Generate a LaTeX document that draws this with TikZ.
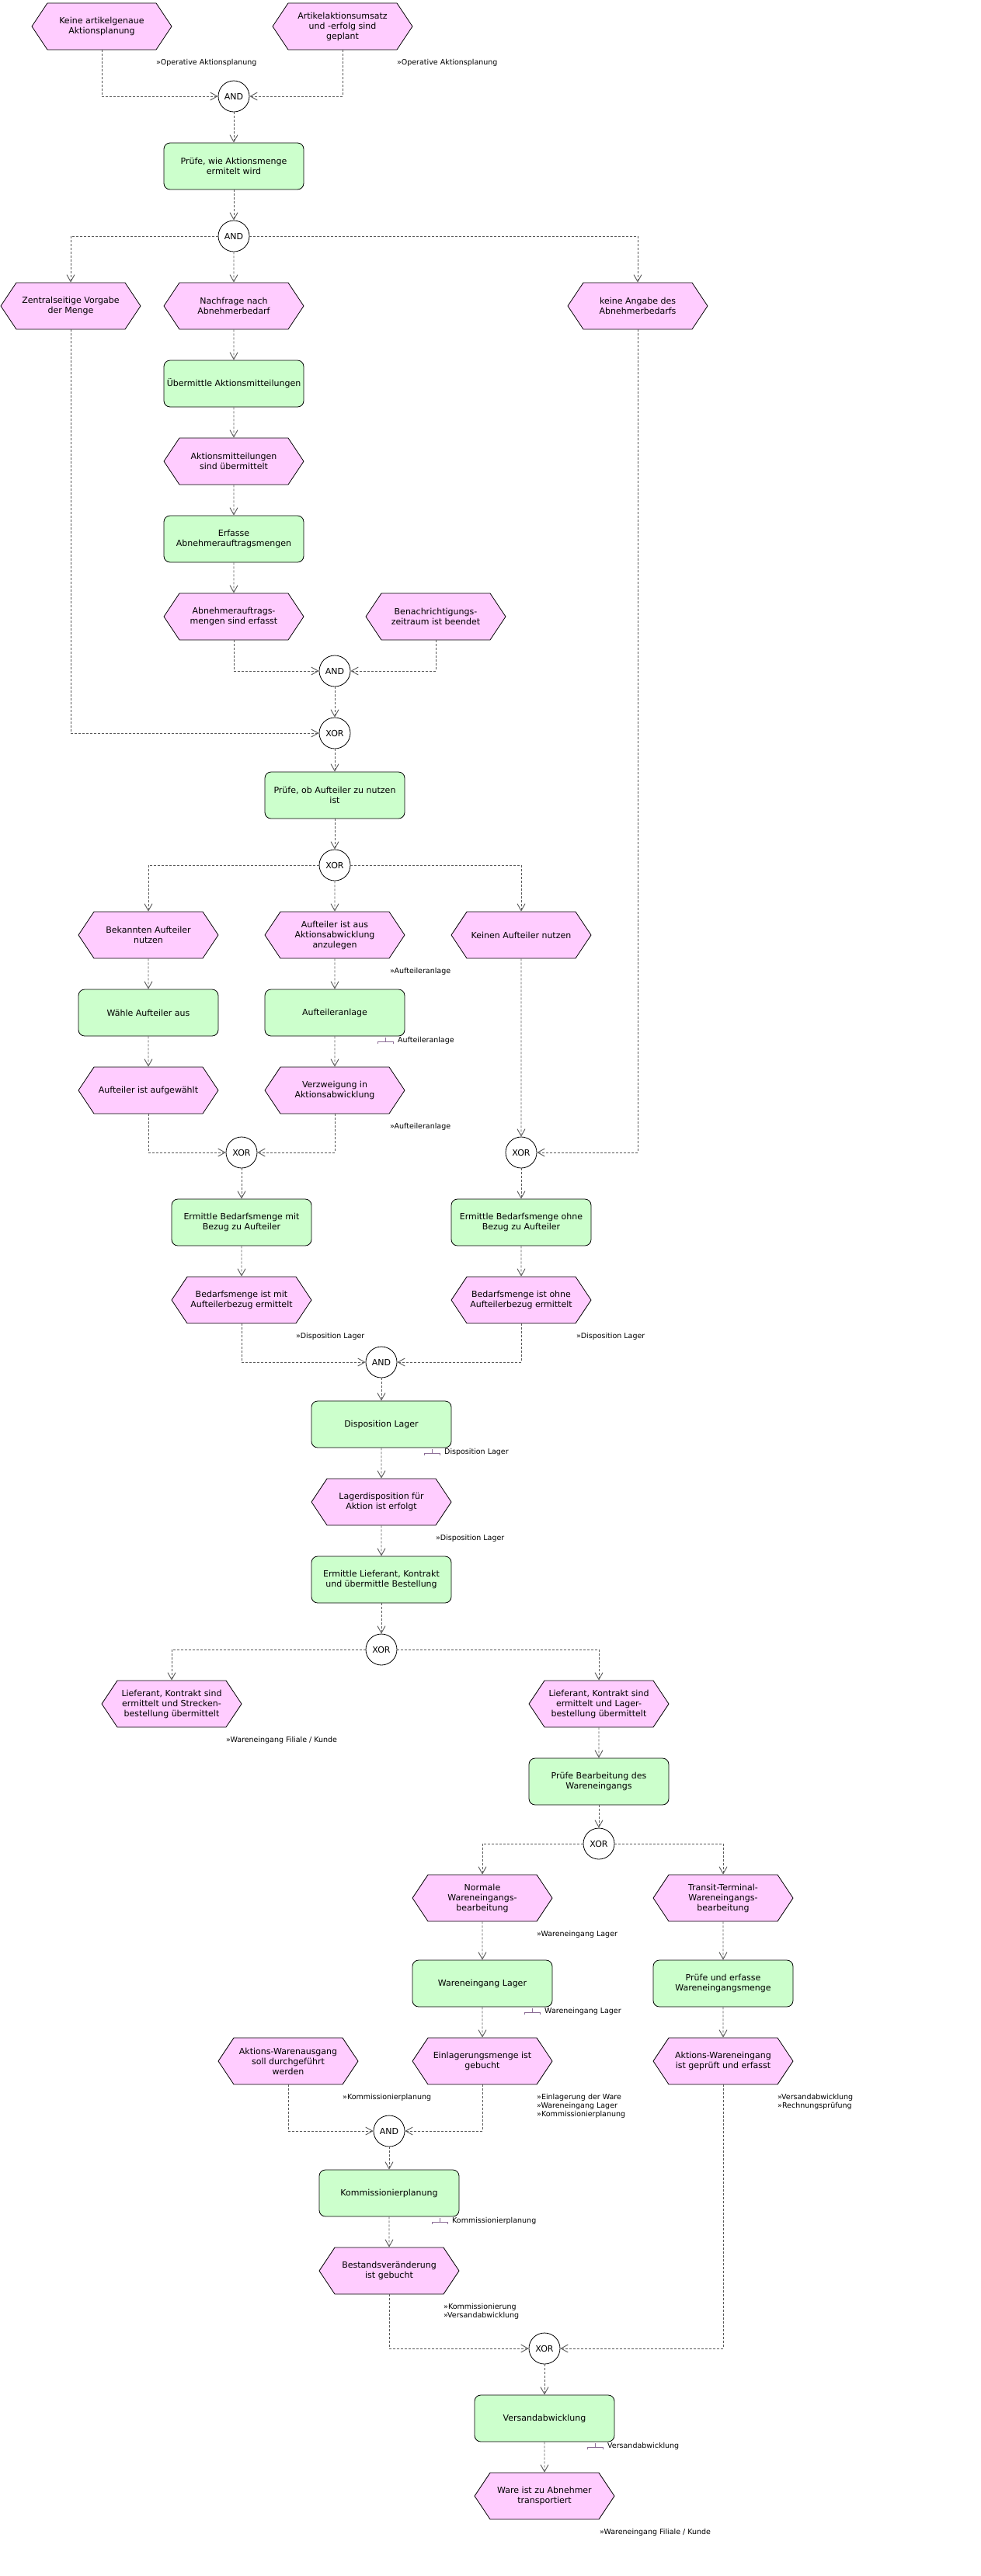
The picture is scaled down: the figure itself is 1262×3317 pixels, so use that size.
\documentclass[tikz,border=0pt]{standalone}
\usepackage{fontspec}
\setmainfont{DejaVu Sans}
\usetikzlibrary{arrows.meta,shapes.symbols}
\definecolor{evpink}{RGB}{255,204,255}
\definecolor{fngreen}{RGB}{204,255,204}
\definecolor{orgcol}{RGB}{140,110,150}
\newcommand{\orgmark}[1]{\draw[orgsym] ([xshift=-26pt,yshift=1pt]#1.base west) ++(0,2.5) -- ++(0,-2.5) -- ++(20,0) -- ++(0,2.5) ++(-10,-2.5) -- ++(0,-6);}

\begin{document}
\begin{tikzpicture}[x=1pt,y=-1pt,
    ev/.style={signal,signal to=east and west,signal pointer angle=112.6,draw,line width=0.8pt,fill=evpink,
        minimum width=180pt,minimum height=60pt,inner sep=0pt,align=center,font=\fontsize{11}{13}\selectfont},
    fn/.style={rectangle,rounded corners=8pt,draw,line width=0.8pt,fill=fngreen,minimum width=180pt,minimum height=60pt,
        inner sep=0pt,align=center,font=\fontsize{11}{13}\selectfont},
    gate/.style={circle,draw,line width=0.8pt,fill=white,minimum size=40pt,inner sep=0pt,font=\fontsize{11}{13}\selectfont},
    lbl/.style={anchor=west,inner sep=0pt,align=left,font=\fontsize{9.5}{11}\selectfont},
    flow/.style={draw=black!65,line width=0.9pt,dash pattern=on 3pt off 2pt,-{Straight Barb[length=9pt,width=10pt]}},
    orgsym/.style={draw=orgcol,line width=0.8pt}]
    \fill[white] (0,0) rectangle (1262,3317);
    \useasboundingbox (0,0) rectangle (1262,3317);

    \node[ev] (e1) at (131,34) {Keine artikelgenaue\\Aktionsplanung};
    \node[ev] (e2) at (441,34) {Artikelaktionsumsatz\\und -erfolg sind\\geplant};
    \node[gate] (g1) at (301,124) {AND};
    \node[fn] (f1) at (301,214) {Prüfe, wie Aktionsmenge\\ermitelt wird};
    \node[gate] (g2) at (301,304) {AND};
    \node[ev] (e3) at (91,394) {Zentralseitige Vorgabe\\der Menge};
    \node[ev] (e4) at (301,394) {Nachfrage nach\\Abnehmerbedarf};
    \node[ev] (e5) at (821,394) {keine Angabe des\\Abnehmerbedarfs};
    \node[fn] (f2) at (301,494) {Übermittle Aktionsmitteilungen};
    \node[ev] (e6) at (301,594) {Aktionsmitteilungen\\sind übermittelt};
    \node[fn] (f3) at (301,694) {Erfasse\\Abnehmerauftragsmengen};
    \node[ev] (e7) at (301,794) {Abnehmerauftrags-\\mengen sind erfasst};
    \node[ev] (e8) at (561,794) {Benachrichtigungs-\\zeitraum ist beendet};
    \node[gate] (g3) at (431,864) {AND};
    \node[gate] (g4) at (431,944) {XOR};
    \node[fn] (f4) at (431,1024) {Prüfe, ob Aufteiler zu nutzen\\ist};
    \node[gate] (g5) at (431,1114) {XOR};
    \node[ev] (e9) at (191,1204) {Bekannten Aufteiler\\nutzen};
    \node[ev] (e10) at (431,1204) {Aufteiler ist aus\\Aktionsabwicklung\\anzulegen};
    \node[ev] (e11) at (671,1204) {Keinen Aufteiler nutzen};
    \node[fn] (f5) at (191,1304) {Wähle Aufteiler aus};
    \node[fn] (f6) at (431,1304) {Aufteileranlage};
    \node[ev] (e12) at (191,1404) {Aufteiler ist aufgewählt};
    \node[ev] (e13) at (431,1404) {Verzweigung in\\Aktionsabwicklung};
    \node[gate] (g6) at (311,1484) {XOR};
    \node[gate] (g7) at (671,1484) {XOR};
    \node[fn] (f7) at (311,1574) {Ermittle Bedarfsmenge mit\\Bezug zu Aufteiler};
    \node[fn] (f8) at (671,1574) {Ermittle Bedarfsmenge ohne\\Bezug zu Aufteiler};
    \node[ev] (e14) at (311,1674) {Bedarfsmenge ist mit\\Aufteilerbezug ermittelt};
    \node[ev] (e15) at (671,1674) {Bedarfsmenge ist ohne\\Aufteilerbezug ermittelt};
    \node[gate] (g8) at (491,1754) {AND};
    \node[fn] (f9) at (491,1834) {Disposition Lager};
    \node[ev] (e16) at (491,1934) {Lagerdisposition für\\Aktion ist erfolgt};
    \node[fn] (f10) at (491,2034) {Ermittle Lieferant, Kontrakt\\und übermittle Bestellung};
    \node[gate] (g9) at (491,2124) {XOR};
    \node[ev] (e17) at (221,2194) {Lieferant, Kontrakt sind\\ermittelt und Strecken-\\bestellung übermittelt};
    \node[ev] (e18) at (771,2194) {Lieferant, Kontrakt sind\\ermittelt und Lager-\\bestellung übermittelt};
    \node[fn] (f11) at (771,2294) {Prüfe Bearbeitung des\\Wareneingangs};
    \node[gate] (g10) at (771,2374) {XOR};
    \node[ev] (e19) at (621,2444) {Normale\\Wareneingangs-\\bearbeitung};
    \node[ev] (e20) at (931,2444) {Transit-Terminal-\\Wareneingangs-\\bearbeitung};
    \node[fn] (f12) at (621,2554) {Wareneingang Lager};
    \node[fn] (f13) at (931,2554) {Prüfe und erfasse\\Wareneingangsmenge};
    \node[ev] (e21) at (371,2654) {Aktions-Warenausgang\\soll durchgeführt\\werden};
    \node[ev] (e22) at (621,2654) {Einlagerungsmenge ist\\gebucht};
    \node[ev] (e23) at (931,2654) {Aktions-Wareneingang\\ist geprüft und erfasst};
    \node[gate] (g11) at (501,2744) {AND};
    \node[fn] (f14) at (501,2824) {Kommissionierplanung};
    \node[ev] (e24) at (501,2924) {Bestandsveränderung\\ist gebucht};
    \node[gate] (g12) at (701,3024) {XOR};
    \node[fn] (f15) at (701,3114) {Versandabwicklung};
    \node[ev] (e25) at (701,3214) {Ware ist zu Abnehmer\\transportiert};

    \node[lbl] (l1) at (201,81) {»Operative Aktionsplanung};
    \node[lbl] (l2) at (511,81) {»Operative Aktionsplanung};
    \node[lbl] (l3) at (502,1251) {»Aufteileranlage};
    \node[lbl] (l4) at (512,1340) {Aufteileranlage};
    \node[lbl] (l5) at (502,1451) {»Aufteileranlage};
    \node[lbl] (l6) at (381,1721) {»Disposition Lager};
    \node[lbl] (l7) at (742,1721) {»Disposition Lager};
    \node[lbl] (l8) at (572,1870) {Disposition Lager};
    \node[lbl] (l9) at (561,1981) {»Disposition Lager};
    \node[lbl] (l10) at (291,2241) {»Wareneingang Filiale / Kunde};
    \node[lbl] (l11) at (691,2491) {»Wareneingang Lager};
    \node[lbl] (l12) at (701,2590) {Wareneingang Lager};
    \node[lbl] (l13) at (441,2701) {»Kommissionierplanung};
    \node[lbl] (l14) at (691,2712) {»Einlagerung der Ware\\»Wareneingang Lager\\»Kommissionierplanung};
    \node[lbl] (l15) at (1001,2706.5) {»Versandabwicklung\\»Rechnungsprüfung};
    \node[lbl] (l16) at (582,2860) {Kommissionierplanung};
    \node[lbl] (l17) at (571,2976.5) {»Kommissionierung\\»Versandabwicklung};
    \node[lbl] (l18) at (782,3150) {Versandabwicklung};
    \node[lbl] (l19) at (772,3261) {»Wareneingang Filiale / Kunde};
    \orgmark{l4} \orgmark{l8} \orgmark{l12} \orgmark{l16} \orgmark{l18}

    \draw[flow] (e1) |- (g1);
    \draw[flow] (e2) |- (g1);
    \draw[flow] (g1) -- (f1);
    \draw[flow] (f1) -- (g2);
    \draw[flow] (g2) -| (e3);
    \draw[flow] (g2) -- (e4);
    \draw[flow] (g2) -| (e5);
    \draw[flow] (e4) -- (f2);
    \draw[flow] (f2) -- (e6);
    \draw[flow] (e6) -- (f3);
    \draw[flow] (f3) -- (e7);
    \draw[flow] (e7) |- (g3);
    \draw[flow] (e8) |- (g3);
    \draw[flow] (g3) -- (g4);
    \draw[flow] (e3) |- (g4);
    \draw[flow] (g4) -- (f4);
    \draw[flow] (f4) -- (g5);
    \draw[flow] (g5) -| (e9);
    \draw[flow] (g5) -- (e10);
    \draw[flow] (g5) -| (e11);
    \draw[flow] (e9) -- (f5);
    \draw[flow] (f5) -- (e12);
    \draw[flow] (e10) -- (f6);
    \draw[flow] (f6) -- (e13);
    \draw[flow] (e12) |- (g6);
    \draw[flow] (e13) |- (g6);
    \draw[flow] (e11) -- (g7);
    \draw[flow] (e5) |- (g7);
    \draw[flow] (g6) -- (f7);
    \draw[flow] (g7) -- (f8);
    \draw[flow] (f7) -- (e14);
    \draw[flow] (f8) -- (e15);
    \draw[flow] (e14) |- (g8);
    \draw[flow] (e15) |- (g8);
    \draw[flow] (g8) -- (f9);
    \draw[flow] (f9) -- (e16);
    \draw[flow] (e16) -- (f10);
    \draw[flow] (f10) -- (g9);
    \draw[flow] (g9) -| (e17);
    \draw[flow] (g9) -| (e18);
    \draw[flow] (e18) -- (f11);
    \draw[flow] (f11) -- (g10);
    \draw[flow] (g10) -| (e19);
    \draw[flow] (g10) -| (e20);
    \draw[flow] (e19) -- (f12);
    \draw[flow] (e20) -- (f13);
    \draw[flow] (f12) -- (e22);
    \draw[flow] (f13) -- (e23);
    \draw[flow] (e21) |- (g11);
    \draw[flow] (e22) |- (g11);
    \draw[flow] (g11) -- (f14);
    \draw[flow] (f14) -- (e24);
    \draw[flow] (e24) |- (g12);
    \draw[flow] (e23) |- (g12);
    \draw[flow] (g12) -- (f15);
    \draw[flow] (f15) -- (e25);
\end{tikzpicture}
\end{document}
